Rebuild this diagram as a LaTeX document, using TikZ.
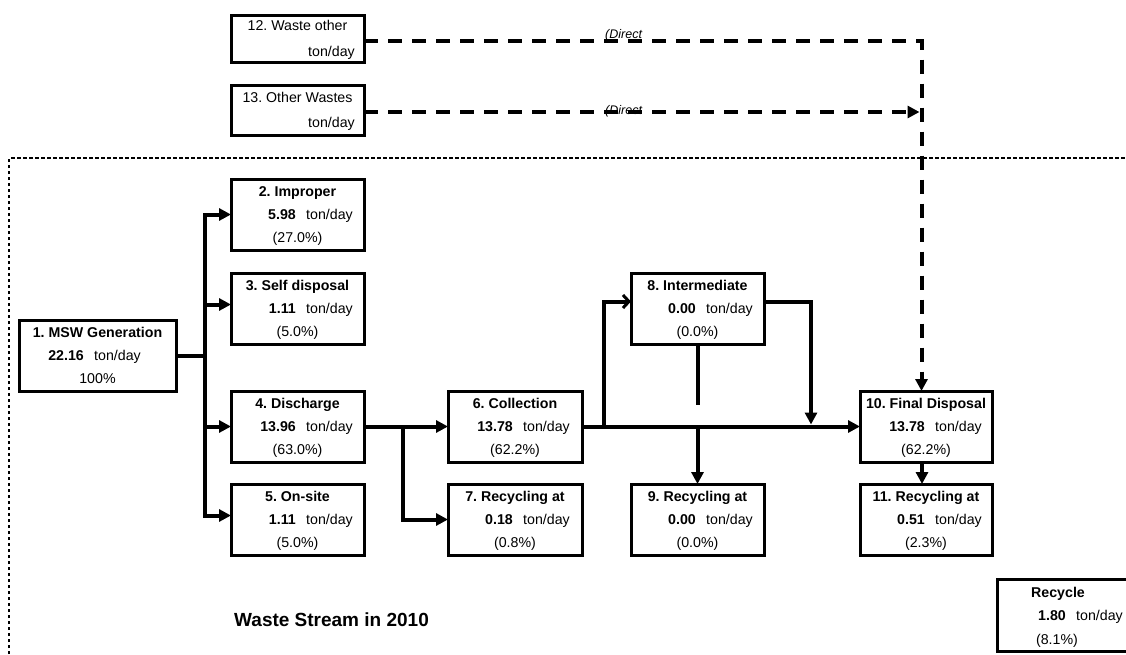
\documentclass[tikz,border=0pt]{standalone}
\usepackage{fontspec}
\setmainfont{Liberation Sans}
\usetikzlibrary{arrows.meta}
\frenchspacing

\tikzset{
  box/.style={draw, line width=3pt, minimum height=71pt, inner sep=0pt, outer sep=0pt},
  ttl/.style={font=\bfseries\fontsize{14.2}{16}\selectfont, inner sep=0pt, anchor=base},
  num/.style={font=\bfseries\fontsize{14.2}{16}\selectfont, inner sep=0pt, anchor=base east},
  unit/.style={font=\fontsize{14.2}{16}\selectfont, inner sep=0pt, anchor=base west},
  pct/.style={font=\fontsize{14.2}{16}\selectfont, inner sep=0pt, anchor=base},
  line/.style={line width=4pt},
  flow/.style={line width=4pt, -{Triangle[length=12pt,width=12pt]}},
  barb/.style={line width=4pt, -{Straight Barb[length=6pt,width=13pt,line width=3pt]}},
  dashflow/.style={line width=4pt, dash pattern=on 14pt off 10pt, -{Triangle[length=12pt,width=12pt]}},
  frame/.style={line width=1.5pt, dash pattern=on 3.5pt off 2.5pt},
  direct/.style={font=\itshape\fontsize{12.5}{14}\selectfont, inner sep=0pt},
  caption/.style={font=\bfseries\fontsize{19}{22}\selectfont, inner sep=0pt, anchor=base west},
}

% #1 name, #2 left, #3 top, #4 width, #5 title, #6 amount, #7 share
\newcommand\flowbox[7]{%
  \node[box, minimum width=#4pt] (#1) at ({#2+#4/2},{#3+35.5}) {};
  \node[ttl]  (#1-t) at ({#2+#4/2},{#3+17}) {#5};
  \node[num]  (#1-n) at ({#2+65},{#3+40}) {#6};
  \node[unit] (#1-u) at ({#2+75},{#3+40}) {ton/day};
  \node[pct]  (#1-p) at ({#2+#4/2},{#3+63}) {#7};
}

\begin{document}
\begin{tikzpicture}[x=1pt, y=-1pt]
\useasboundingbox (0,0) rectangle (1126,654);

% system boundary
\draw[frame] (9,660) -- (9,158) -- (1130,158);

% inputs from outside the system
\node[box, minimum width=133pt, minimum height=47pt] (b12) at (297.5,38.5) {};
\node[ttl, font=\fontsize{14.2}{16}\selectfont] (b12-t) at (297.5,30) {12. Waste other};
\node[unit, anchor=base east] (b12-u) at (355,56) {ton/day};
\node[box, minimum width=133pt, minimum height=50pt] (b13) at (297.5,110) {};
\node[ttl, font=\fontsize{14.2}{16}\selectfont] (b13-t) at (297.5,102) {13. Other Wastes};
\node[unit, anchor=base east] (b13-u) at (355,127) {ton/day};

% flow boxes
\flowbox{b1}{19}{320}{157}{1. MSW Generation}{22.16}{100\%}
\flowbox{b2}{231}{179}{133}{2. Improper}{5.98}{(27.0\%)}
\flowbox{b3}{231}{273}{133}{3. Self disposal}{1.11}{(5.0\%)}
\flowbox{b4}{231}{391}{133}{4. Discharge}{13.96}{(63.0\%)}
\flowbox{b5}{231}{484}{133}{5. On-site}{1.11}{(5.0\%)}
\flowbox{b6}{448}{391}{134}{6. Collection}{13.78}{(62.2\%)}
\flowbox{b7}{448}{484}{134}{7. Recycling at}{0.18}{(0.8\%)}
\flowbox{b8}{631}{273}{133}{8. Intermediate}{0.00}{(0.0\%)}
\flowbox{b9}{631}{484}{133}{9. Recycling at}{0.00}{(0.0\%)}
\flowbox{b10}{860}{391}{132}{10. Final Disposal}{13.78}{(62.2\%)}
\flowbox{b11}{860}{484}{132}{11. Recycling at}{0.51}{(2.3\%)}

% recycling total
\node[box, minimum width=140pt, minimum height=72pt] (rc) at (1067,615) {};
\node[ttl]  (rc-t) at (1058,597) {Recycle};
\node[num]  (rc-n) at (1066,620) {1.80};
\node[unit] (rc-u) at (1076,620) {ton/day};
\node[pct]  (rc-p) at (1057,644) {(8.1\%)};

\node[caption] (cap) at (234,626) {Waste Stream in 2010};

% junction columns
\coordinate (tr) at (205,0);
\coordinate (j7) at (403,0);
\coordinate (j8) at (604,0);
\coordinate (j9) at (811,0);

% generation split
\draw[line] (b1.east) -- (b1.east -| tr);
\draw[flow] (b1.east -| tr) |- (b2.west);
\draw[flow] (b1.east -| tr) |- ([yshift=4pt]b3.west);
\draw[flow] (b1.east -| tr) |- (b4.west);
\draw[flow] (b1.east -| tr) |- ([yshift=4pt]b5.west);

% discharge to collection and recycling
\draw[flow] (b4) -- (b6);
\draw[flow] (b4.east -| j7) |- (b7.west);

% collection to disposal
\draw[flow] (b6) -- (b10);
\draw[barb] (b6.east -| j8) |- ([yshift=7pt]b8.west);
\draw[flow] ([yshift=7pt]b8.east) -| ([yshift=2pt]b6.east -| j9);

% intermediate to recycling, passing the main line
\coordinate (g1) at ([yshift=21.5pt]b6.east -| b8.south);
\coordinate (g2) at ([yshift=-2.5pt]b6.east -| b8.south);
\draw[line] (b8.south) -- (g1);
\draw[flow] (g2) -- (b9.north);

\draw[flow] ([xshift=-4pt]b10.south) -- ([xshift=-4pt]b11.north);

% direct flows to final disposal
\coordinate (dv) at ([xshift=-4.5pt]b10.north);
\draw[dashflow] ([yshift=-2.5pt]b12.east) -| (dv);
\draw[dashflow] ([yshift=-2pt]b13.east) -- ([yshift=-2pt,xshift=-2pt]b13.east -| dv);
\node[direct, anchor=south west] (d12) at (605,41) {(Direct};
\node[direct, anchor=west] (d13) at (605,111) {(Direct};
\end{tikzpicture}
\end{document}
